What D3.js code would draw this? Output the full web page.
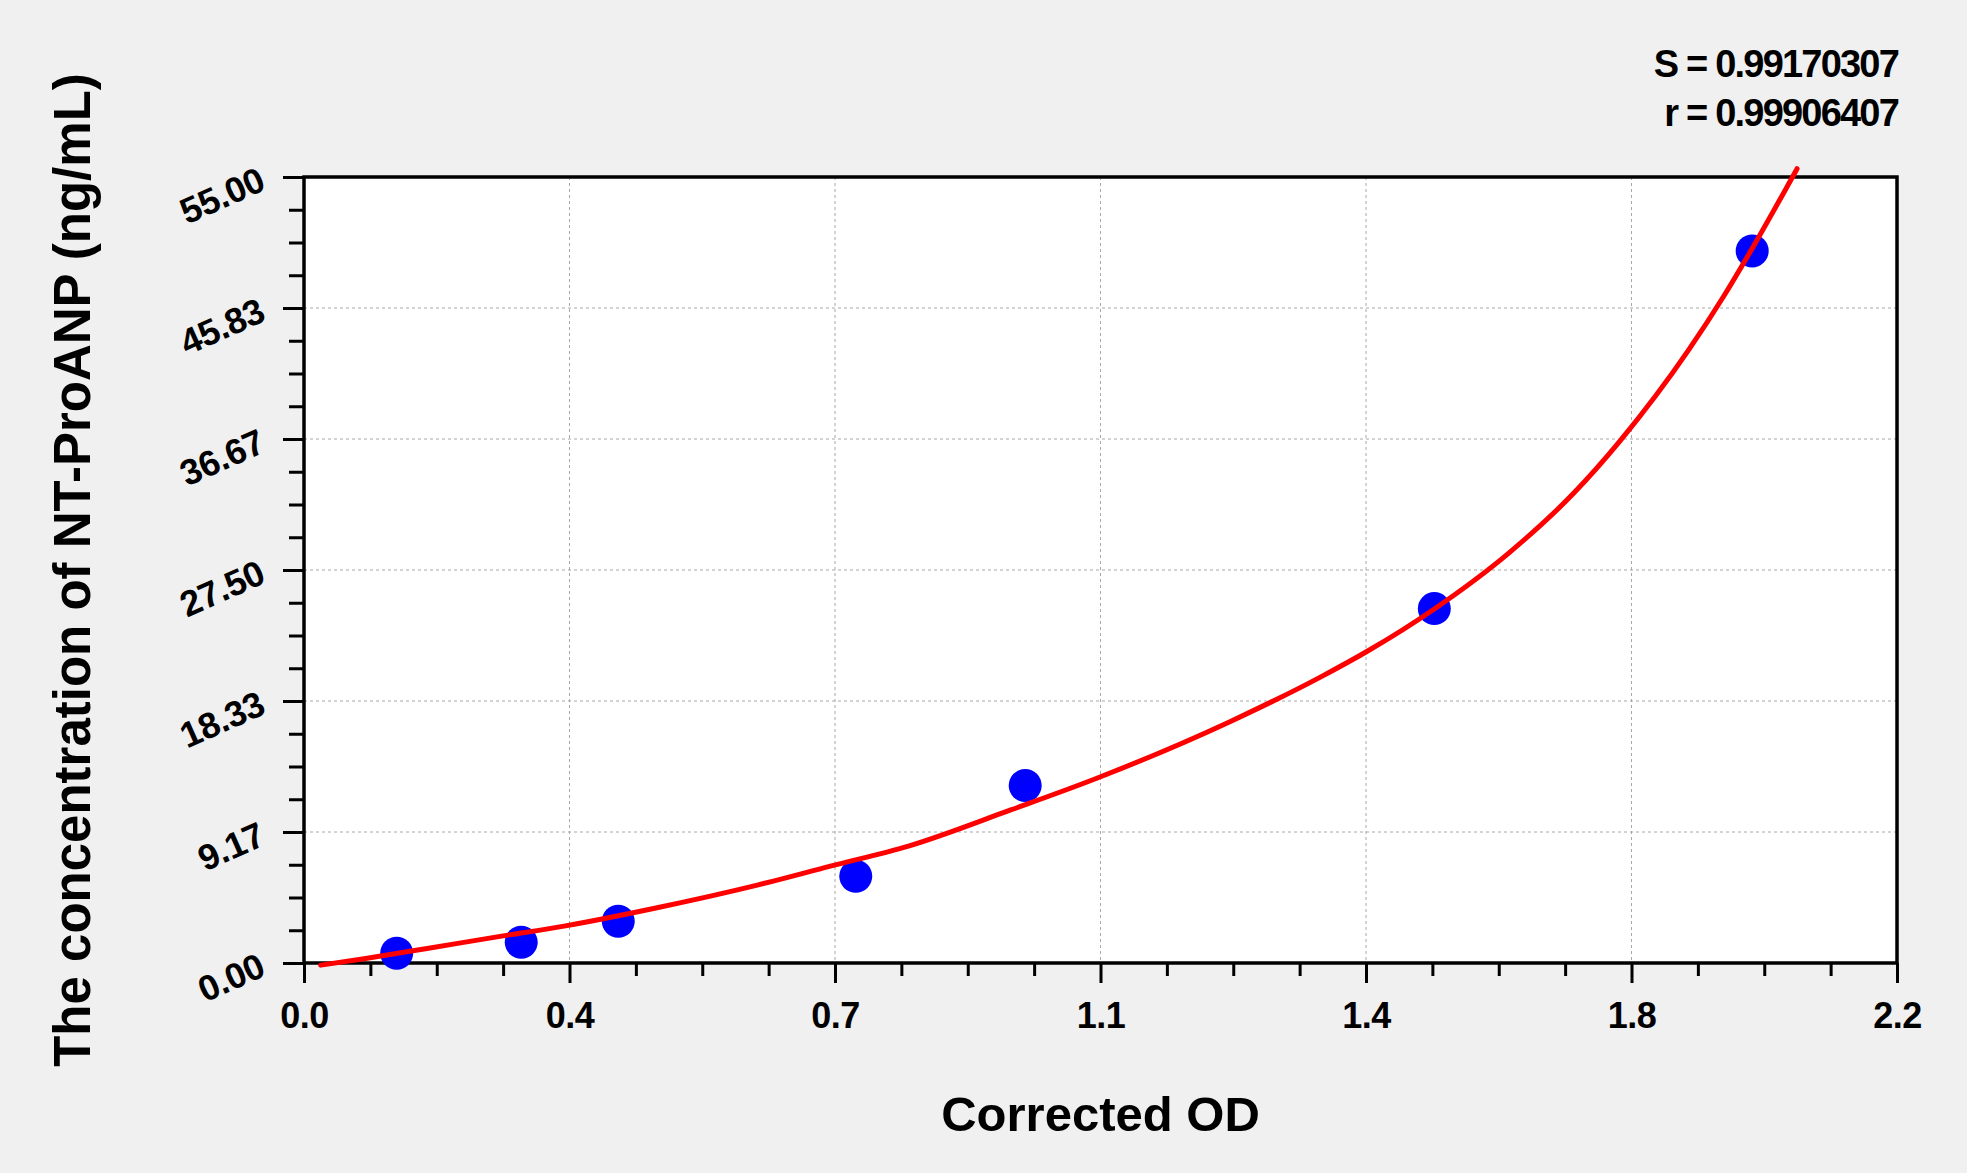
<!DOCTYPE html>
<html>
<head>
<meta charset="utf-8">
<script src="https://cdn.jsdelivr.net/npm/d3@7/dist/d3.min.js"></script>
<style>
  html, body { margin: 0; padding: 0; background: #f0f0f0; }
  svg { display: block; }
  text { font-family: "Liberation Sans", Arial, sans-serif; font-weight: bold; fill: #000; }
</style>
</head>
<body>
<svg id="chart" width="1967" height="1173"></svg>
<script>
// ---- data ----
const xDomain = [0, 2.2];
const yDomain = [0, 55];
const xTickLabels = ["0.0", "0.4", "0.7", "1.1", "1.4", "1.8", "2.2"];
const yTickLabels = ["0.00", "9.17", "18.33", "27.50", "36.67", "45.83", "55.00"];

// standard points (Corrected OD, concentration)
const odValues   = [0.128, 0.300, 0.434, 0.762, 0.996, 1.561, 2.000];
const concValues = [0.68, 1.45, 2.92, 6.07, 12.42, 24.80, 49.83];

// fitted curve
const fitOD   = [0.023, 0.083, 0.170, 0.275, 0.361, 0.486, 0.626, 0.727, 0.836, 0.976, 1.094, 1.278, 1.405, 1.469, 1.562, 1.663, 1.754, 1.817, 1.913, 1.960, 2.000, 2.062];
const fitConc = [-0.15, 0.30, 1.02, 1.90, 2.60, 3.85, 5.45, 6.78, 8.20, 10.71, 12.91, 16.87, 20.04, 21.83, 24.81, 28.65, 32.90, 36.50, 42.95, 46.60, 50.00, 55.58];

const statS = "S = 0.99170307";
const statR = "r = 0.99906407";
const xTitle = "Corrected OD";
const yTitle = "The concentration of NT-ProANP (ng/mL)";

// ---- layout ----
const L = 304, R = 1897, T = 177, B = 963;
const svg = d3.select("#chart");

const x = d3.scaleLinear().domain(xDomain).range([L, R]);
const y = d3.scaleLinear().domain(yDomain).range([B, T]);

const nMajor = xTickLabels.length - 1;
const xMajor = d3.range(xTickLabels.length).map(i => xDomain[0] + i * (xDomain[1] - xDomain[0]) / nMajor);
const yMajor = d3.range(yTickLabels.length).map(i => yDomain[0] + i * (yDomain[1] - yDomain[0]) / nMajor);
const xMinor = d3.range(nMajor * 4 + 1).filter(i => i % 4 !== 0).map(i => xDomain[0] + i * (xDomain[1] - xDomain[0]) / (nMajor * 4));
const yMinor = d3.range(nMajor * 4 + 1).filter(i => i % 4 !== 0).map(i => yDomain[0] + i * (yDomain[1] - yDomain[0]) / (nMajor * 4));

// plot background
svg.append("rect").attr("x", L).attr("y", T).attr("width", R - L).attr("height", B - T)
  .attr("fill", "#fff");

// grid
const grid = svg.append("g").attr("stroke", "#a8a8a8").attr("stroke-width", 1).attr("stroke-dasharray", "3,3");
grid.selectAll("line.gx").data(xMajor.slice(1, -1)).join("line")
  .attr("x1", d => x(d)).attr("x2", d => x(d)).attr("y1", T).attr("y2", B);
grid.selectAll("line.gy").data(yMajor.slice(1, -1)).join("line")
  .attr("y1", d => y(d)).attr("y2", d => y(d)).attr("x1", L).attr("x2", R);

// axes
const xAxisMajor = d3.axisBottom(x).tickValues(xMajor).tickSize(20).tickFormat((d, i) => xTickLabels[i]);
const xAxisMinor = d3.axisBottom(x).tickValues(xMinor).tickSize(13).tickFormat("");
const yAxisMajor = d3.axisLeft(y).tickValues(yMajor).tickSize(21).tickFormat((d, i) => yTickLabels[i]);
const yAxisMinor = d3.axisLeft(y).tickValues(yMinor).tickSize(15).tickFormat("");

function styleAxis(g) {
  g.select(".domain").remove();
  g.selectAll(".tick line").attr("stroke", "#000").attr("stroke-width", 3);
}

svg.append("g").attr("transform", `translate(0,${B})`).call(xAxisMinor).call(styleAxis);
const gx = svg.append("g").attr("transform", `translate(0,${B})`).call(xAxisMajor).call(styleAxis);
gx.selectAll(".tick text")
  .attr("y", 65).attr("dy", 0)
  .style("font-size", "36px").style("letter-spacing", "-0.5px")
  .attr("fill", "#000");

svg.append("g").attr("transform", `translate(${L},0)`).call(yAxisMinor).call(styleAxis);
const gy = svg.append("g").attr("transform", `translate(${L},0)`).call(yAxisMajor).call(styleAxis);
gy.selectAll(".tick text")
  .attr("x", 0).attr("dy", "0.35em")
  .attr("text-anchor", "end")
  .attr("transform", "translate(-42,0) rotate(-24)")
  .style("font-size", "36px").style("letter-spacing", "-0.5px")
  .attr("fill", "#000");

// frame
svg.append("rect").attr("x", L).attr("y", T).attr("width", R - L).attr("height", B - T)
  .attr("fill", "none").attr("stroke", "#000").attr("stroke-width", 3.5);

// points
const pts = odValues.map((v, i) => ({ od: v, c: concValues[i] }));
svg.append("g").selectAll("circle").data(pts).join("circle")
  .attr("cx", d => x(d.od)).attr("cy", d => y(d.c)).attr("r", 16.5)
  .attr("fill", "#0000ff");

// fitted curve
const fit = fitOD.map((v, i) => ({ od: v, c: fitConc[i] }));
const line = d3.line().x(d => x(d.od)).y(d => y(d.c)).curve(d3.curveMonotoneX);
svg.append("path").datum(fit).attr("d", line)
  .attr("fill", "none").attr("stroke", "#ff0000").attr("stroke-width", 5)
  .attr("stroke-linecap", "round").attr("stroke-linejoin", "round");

// stats
svg.append("text").attr("x", 1898).attr("y", 77).attr("text-anchor", "end")
  .style("font-size", "38px").style("letter-spacing", "-1.8px").text(statS);
svg.append("text").attr("x", 1898).attr("y", 126).attr("text-anchor", "end")
  .style("font-size", "38px").style("letter-spacing", "-1.8px").text(statR);

// titles
svg.append("text").attr("x", (L + R) / 2).attr("y", 1131).attr("text-anchor", "middle")
  .style("font-size", "49px").text(xTitle);
svg.append("text").attr("transform", `translate(90,${(T + B) / 2}) rotate(-90)`).attr("text-anchor", "middle")
  .style("font-size", "51px").text(yTitle);
</script>
</body>
</html>
